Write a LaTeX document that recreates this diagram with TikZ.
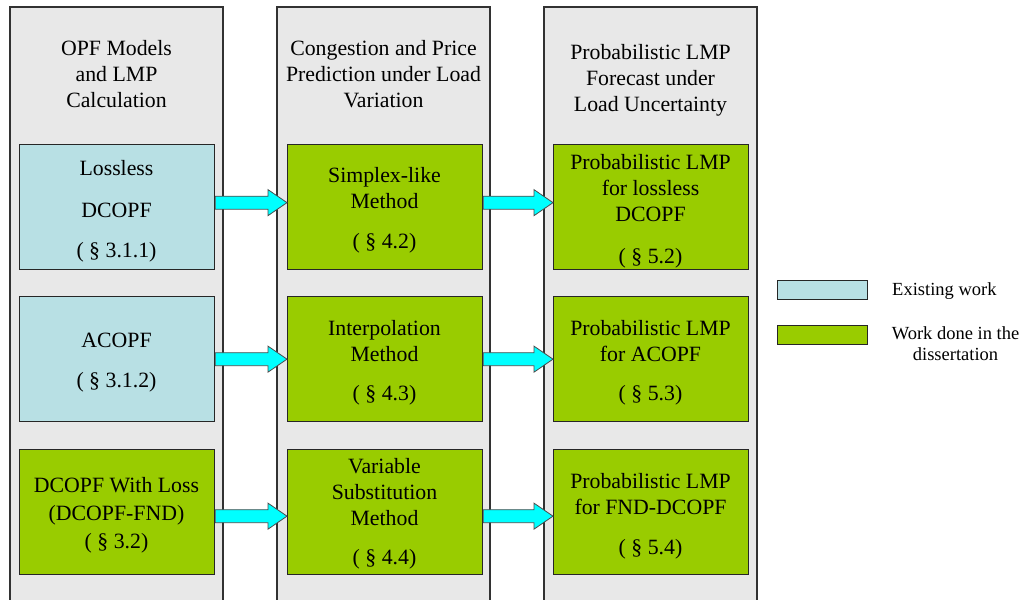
\documentclass[tikz,border=0pt]{standalone}
\usepackage{fontspec}
\setmainfont{Liberation Serif}
\usetikzlibrary{calc}
\definecolor{colgray}{RGB}{232,232,232}
\definecolor{exist}{RGB}{184,224,228}
\definecolor{done}{RGB}{153,204,0}
\definecolor{arrcyan}{RGB}{0,255,255}
\definecolor{edge}{RGB}{50,50,50}
\tikzset{
  column/.style={draw=edge, line width=1.3pt, fill=colgray},
  workbox/.style={draw=black!85, line width=1.3pt, minimum width=195pt, minimum height=125pt, inner sep=0pt, anchor=north west},
  existbox/.style={workbox, fill=exist},
  donebox/.style={workbox, fill=done},
  legbox/.style={draw=black!85, line width=1.1pt, minimum width=90pt, minimum height=19pt, inner sep=0pt, anchor=north west},
  txt/.style={font=\fontsize{21.8}{25}\selectfont, anchor=base, inner sep=0pt},
  legtxt/.style={font=\fontsize{18.5}{22}\selectfont, inner sep=0pt},
  blockarrow/.style={draw=black!70, line width=0.8pt, fill=arrcyan}
}
\newcommand{\blockarr}[3]{% from node, to node, vertical offset (up positive)
  \draw[blockarrow] let \p1=(#1.east), \p2=(#2.west) in
    (\x1,\y1+#3-6.5pt) -- (\x2-19pt,\y1+#3-6.5pt) -- (\x2-19pt,\y1+#3-13pt)
    -- (\x2,\y1+#3) -- (\x2-19pt,\y1+#3+13pt) -- (\x2-19pt,\y1+#3+6.5pt)
    -- (\x1,\y1+#3+6.5pt) -- cycle;}
\begin{document}
\begin{tikzpicture}[x=1pt,y=-1pt]
\useasboundingbox (0,0) rectangle (1024,599);
\clip (0,0) rectangle (1024,599);
\fill[white] (0,0) rectangle (1024,599);
% columns
\draw[column] (10,640) -- (10,7) -- (223,7) -- (223,640);
\draw[column] (277,640) -- (277,7) -- (490,7) -- (490,640);
\draw[column] (544,640) -- (544,7) -- (757,7) -- (757,640);
% headers
\node[txt] (h1a) at (116.5,56) {OPF Models};
\node[txt] (h1b) at (116.5,82) {and LMP};
\node[txt] (h1c) at (116.5,108) {Calculation};
\node[txt] (h2a) at (383.5,56) {Congestion and Price};
\node[txt] (h2b) at (383.5,82) {Prediction under Load};
\node[txt] (h2c) at (383.5,108) {Variation};
\node[txt] (h3a) at (650.5,60) {Probabilistic LMP};
\node[txt] (h3b) at (650.5,86) {Forecast under};
\node[txt] (h3c) at (650.5,112) {Load Uncertainty};
% boxes column 1
\node[existbox] (a1) at (19,144) {};
\node[existbox] (a2) at (19,296) {};
\node[donebox]  (a3) at (19,449) {};
% boxes column 2
\node[donebox] (b1) at (287,144) {};
\node[donebox] (b2) at (287,296) {};
\node[donebox] (b3) at (287,449) {};
% boxes column 3
\node[donebox] (c1) at (553,144) {};
\node[donebox] (c2) at (553,296) {};
\node[donebox] (c3) at (553,449) {};
% texts column 1
\node[txt] (ta1a) at (116.5,175) {Lossless};
\node[txt] (ta1b) at (116.5,217) {DCOPF};
\node[txt] (ta1c) at (116.5,257) {( § 3.1.1)};
\node[txt] (ta2a) at (116.5,347) {ACOPF};
\node[txt] (ta2b) at (116.5,387) {( § 3.1.2)};
\node[txt] (ta3a) at (116.5,492) {DCOPF With Loss};
\node[txt] (ta3b) at (116.5,520) {(DCOPF-FND)};
\node[txt] (ta3c) at (116.5,548) {( § 3.2)};
% texts column 2
\node[txt] (tb1a) at (384.5,182) {Simplex-like};
\node[txt] (tb1b) at (384.5,208) {Method};
\node[txt] (tb1c) at (384.5,248) {( § 4.2)};
\node[txt] (tb2a) at (384.5,335) {Interpolation};
\node[txt] (tb2b) at (384.5,361) {Method};
\node[txt] (tb2c) at (384.5,400) {( § 4.3)};
\node[txt] (tb3a) at (384.5,473) {Variable};
\node[txt] (tb3b) at (384.5,499) {Substitution};
\node[txt] (tb3c) at (384.5,525) {Method};
\node[txt] (tb3d) at (384.5,564) {( § 4.4)};
% texts column 3
\node[txt] (tc1a) at (650.5,169) {Probabilistic LMP};
\node[txt] (tc1b) at (650.5,195) {for lossless};
\node[txt] (tc1c) at (650.5,221) {DCOPF};
\node[txt] (tc1d) at (650.5,263) {( § 5.2)};
\node[txt] (tc2a) at (650.5,335) {Probabilistic LMP};
\node[txt] (tc2b) at (650.5,361) {for ACOPF};
\node[txt] (tc2c) at (650.5,400) {( § 5.3)};
\node[txt] (tc3a) at (650.5,488) {Probabilistic LMP};
\node[txt] (tc3b) at (650.5,514) {for FND-DCOPF};
\node[txt] (tc3c) at (650.5,554) {( § 5.4)};
% arrows
\blockarr{a1}{b1}{4.5pt}
\blockarr{b1}{c1}{4.5pt}
\blockarr{a2}{b2}{0pt}
\blockarr{b2}{c2}{0pt}
\blockarr{a3}{b3}{-4pt}
\blockarr{b3}{c3}{-4pt}
% legend
\node[legbox, fill=exist] (l1) at (777,280) {};
\node[legbox, fill=done]  (l2) at (777,325) {};
\node[legtxt, anchor=base west] (lt1) at (892,295) {Existing work};
\node[legtxt, anchor=base] (lt2a) at (955.5,339) {Work done in the};
\node[legtxt, anchor=base] (lt2b) at (955.5,360) {dissertation};
\end{tikzpicture}
\end{document}
